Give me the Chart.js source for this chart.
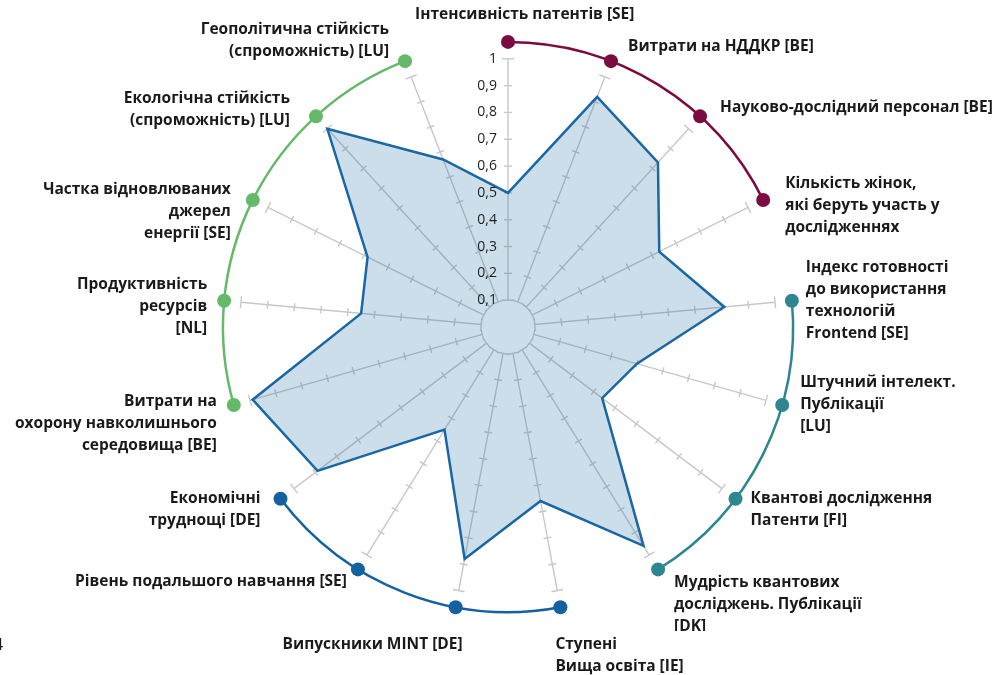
<!DOCTYPE html>
<html>
<head>
<meta charset="utf-8">
<script src="https://cdn.jsdelivr.net/npm/chart.js@4.4.0/dist/chart.umd.min.js"></script>
<style>
  html, body { margin: 0; padding: 0; background: #fff; }
  #wrap { width: 998px; height: 675px; position: relative; }
</style>
</head>
<body>
<div id="wrap"><canvas id="radar" width="998" height="675"></canvas></div>
<script>
(() => {
  'use strict'

  // Осі (по годинниковій стрілці від верху)
  const labels = [
    ['Інтенсивність патентів [SE]'],
    ['Витрати на НДДКР [BE]'],
    ['Науково-дослідний персонал [BE]'],
    ['Кількість жінок,', 'які беруть участь у', 'дослідженнях'],
    ['Індекс готовності', 'до використання', 'технологій', 'Frontend [SE]'],
    ['Штучний інтелект.', 'Публікації', '[LU]'],
    ['Квантові дослідження', 'Патенти [FI]'],
    ['Мудрість квантових', 'досліджень. Публікації', '[DK]'],
    ['Ступені', 'Вища освіта [IE]'],
    ['Випускники MINT [DE]'],
    ['Рівень подальшого навчання [SE]'],
    ['Економічні', 'труднощі [DE]'],
    ['Витрати на', 'охорону навколишнього', 'середовища [BE]'],
    ['Продуктивність', 'ресурсів', '[NL]'],
    ['Частка відновлюваних', 'джерел', 'енергії [SE]'],
    ['Екологічна стійкість', '(спроможність) [LU]'],
    ['Геополітична стійкість', '(спроможність) [LU]']
  ]

  // Значення (0..1)
  const values = [0.50, 0.92, 0.83, 0.63, 0.81, 0.50, 0.44, 0.96, 0.66, 0.88, 0.45, 0.89, 0.99, 0.55, 0.585, 1.0, 0.67]

  // Групи осей (кольорові дуги)
  const groupOf = [0, 0, 0, 0, 1, 1, 1, 1, 2, 2, 2, 2, 3, 3, 3, 3, 3]
  const groupColors = ['#7b0c42', '#2d8690', '#13629f', '#64ba68']

  // Підписи шкали
  const tickValues = [0.1, 0.2, 0.3, 0.4, 0.5, 0.6, 0.7, 0.8, 0.9, 1]
  const tickText = ['0,1', '0,2', '0,3', '0,4', '0,5', '0,6', '0,7', '0,8', '0,9', '1']

  const ringValue = 1.063

  // Розміщення підписів відносно точок на дузі: [dx, dy, align]
  const labelLayout = [
    [-93, -27, 'left'], [17, -15, 'left'], [20, -9, 'left'], [22, -16, 'left'],
    [14, -33, 'left'], [18, -22, 'left'], [15, 0, 'left'], [16, 13, 'left'],
    [-5, 37, 'left'], [7, 37, 'right'], [-11, 12, 'right'], [-20, 0, 'right'],
    [-17, -3, 'right'], [-17, -16, 'right'], [-22, -10, 'right'], [-26, -18, 'right'],
    [-16, -32, 'right']
  ]

  const FONT = 'bold 15.5px "Open Sans", Lato, sans-serif'
  const LINE_H = 22

  const decor = {
    id: 'decor',
    beforeDatasetsDraw(chart) {
      const s = chart.scales.r
      const c = chart.ctx
      c.save()
      // спиці з рисками
      c.strokeStyle = '#c8c8c8'
      c.lineWidth = 1.4
      labels.forEach((_, i) => {
        const a = s.getPointPositionForValue(i, tickValues[0])
        const b = s.getPointPositionForValue(i, tickValues[tickValues.length - 1])
        c.beginPath()
        c.moveTo(a.x, a.y)
        c.lineTo(b.x, b.y)
        c.stroke()
        const ang = s.getIndexAngle(i) - Math.PI / 2
        const px = -Math.sin(ang), py = Math.cos(ang)
        tickValues.forEach((v, k) => {
          const p = s.getPointPositionForValue(i, v)
          const half = (k === 0 || k === tickValues.length - 1) ? 6 : 4
          c.beginPath()
          c.moveTo(p.x - px * half, p.y - py * half)
          c.lineTo(p.x + px * half, p.y + py * half)
          c.stroke()
        })
      })
      // кольорові дуги
      const r = s.getDistanceFromCenterForValue(ringValue)
      groupColors.forEach((col, g) => {
        const idx = groupOf.map((gg, i) => gg === g ? i : -1).filter(i => i >= 0)
        const a0 = s.getIndexAngle(idx[0]) - Math.PI / 2
        const a1 = s.getIndexAngle(idx[idx.length - 1]) - Math.PI / 2
        c.beginPath()
        c.arc(s.xCenter, s.yCenter, r, a0, a1)
        c.strokeStyle = col
        c.lineWidth = 2.5
        c.stroke()
      })
      c.restore()
    },
    afterDraw(chart) {
      const s = chart.scales.r
      const c = chart.ctx
      c.save()
      // підписи шкали
      c.font = '14px "Open Sans", Lato, sans-serif'
      c.fillStyle = '#1e1e1e'
      c.textAlign = 'right'
      c.textBaseline = 'middle'
      tickValues.forEach((v, k) => {
        const p = s.getPointPositionForValue(0, v)
        c.fillText(tickText[k], p.x - 11, p.y)
      })
      // підписи осей
      c.font = FONT
      c.fillStyle = '#1a1a1a'
      labels.forEach((lines, i) => {
        const p = s.getPointPositionForValue(i, ringValue)
        const [dx, dy, align] = labelLayout[i]
        c.save()
        if (i === 7) {
          c.beginPath()
          c.rect(0, 0, chart.width, 631)
          c.clip()
        }
        c.textAlign = align
        lines.forEach((t, k) => c.fillText(t, p.x + dx, p.y + dy + k * LINE_H))
        c.restore()
      })
      // обрізаний символ біля лівого краю
      c.textAlign = 'left'
      c.font = '16px "Open Sans", sans-serif'
      c.fillText('4', -6, 645)
      c.restore()
    }
  }

  new Chart(document.getElementById('radar'), {
    type: 'radar',
    data: {
      labels: labels,
      datasets: [{
        data: values,
        borderColor: '#1a67a3',
        borderWidth: 2.5,
        backgroundColor: 'rgba(27,106,165,0.22)',
        fill: true,
        pointRadius: 0
      }, {
        data: labels.map(() => ringValue),
        showLine: false,
        borderWidth: 0,
        fill: false,
        backgroundColor: 'transparent',
        pointRadius: 7,
        pointBorderWidth: 0,
        pointBackgroundColor: groupOf.map(g => groupColors[g])
      }]
    },
    options: {
      responsive: false,
      animation: false,
      layout: { padding: { left: 213, top: 32, right: 195, bottom: 53 } },
      plugins: { legend: { display: false }, tooltip: { enabled: false } },
      scales: {
        r: {
          min: 0,
          max: 1.1,
          ticks: { display: false },
          grid: { display: false },
          angleLines: { display: false },
          pointLabels: { display: false }
        }
      }
    },
    plugins: [decor]
  })
})()
</script>
</body>
</html>
